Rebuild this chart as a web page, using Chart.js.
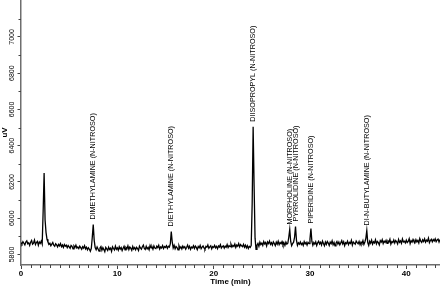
<!DOCTYPE html>
<html>
<head>
<meta charset="utf-8">
<script src="https://cdn.jsdelivr.net/npm/chart.js@4/dist/chart.umd.min.js"></script>
<style>
  html, body { margin: 0; padding: 0; background: #fff; }
  #wrap { width: 440px; height: 287px; }
</style>
</head>
<body>
<div id="wrap"><canvas id="chrom"></canvas></div>
<script>
// detector signal (uV), one sample every 0.1 min starting at 0 min
const sampleStep = 0.1;
const signal = [
    5866, 5858, 5871, 5862, 5853, 5869, 5875, 5859, 5864, 5850,
    5868, 5877, 5857, 5863, 5880, 5855, 5866, 5872, 5851, 5869,
    5861, 5874, 5858, 6040, 6250, 5990, 5921, 5884, 5869, 5856,
    5862, 5848, 5857, 5866, 5851, 5845, 5859, 5853, 5842, 5856,
    5848, 5860, 5843, 5852, 5839, 5855, 5846, 5851, 5838, 5849,
    5842, 5834, 5850, 5845, 5831, 5847, 5839, 5852, 5836, 5841,
    5833, 5846, 5838, 5829, 5843, 5835, 5848, 5831, 5840, 5826,
    5837, 5829, 5818, 5834, 5895, 5965, 5878, 5838, 5826, 5841,
    5830, 5819, 5836, 5844, 5823, 5838, 5827, 5815, 5839, 5831,
    5822, 5840, 5828, 5835, 5817, 5842, 5833, 5825, 5846, 5829,
    5837, 5824, 5843, 5830, 5838, 5821, 5834, 5845, 5826, 5839,
    5832, 5848, 5827, 5841, 5835, 5823, 5844, 5830, 5838, 5826,
    5840, 5833, 5822, 5846, 5836, 5829, 5843, 5852, 5834, 5828,
    5845, 5831, 5839, 5826, 5850, 5837, 5843, 5829, 5847, 5835,
    5832, 5846, 5838, 5851, 5830, 5842, 5836, 5849, 5833, 5844,
    5839, 5848, 5834, 5845, 5841, 5858, 5927, 5870, 5836, 5850,
    5831, 5844, 5838, 5826, 5849, 5835, 5842, 5830, 5846, 5837,
    5843, 5829, 5840, 5852, 5834, 5845, 5828, 5841, 5836, 5848,
    5833, 5846, 5839, 5827, 5844, 5837, 5850, 5832, 5841, 5847,
    5836, 5829, 5845, 5840, 5853, 5834, 5842, 5848, 5831, 5844,
    5839, 5850, 5837, 5845, 5832, 5847, 5841, 5854, 5836, 5843,
    5848, 5835, 5846, 5840, 5855, 5838, 5849, 5843, 5857, 5841,
    5850, 5844, 5858, 5839, 5852, 5846, 5860, 5842, 5855, 5848,
    5843, 5856, 5840, 5851, 5837, 5848, 5833, 5845, 5839, 5850,
    6080, 6505, 6180, 5890, 5828, 5852, 5861, 5845, 5868, 5855,
    5863, 5850, 5871, 5858, 5866, 5847, 5869, 5860, 5874, 5856,
    5865, 5852, 5870, 5861, 5849, 5868, 5857, 5873, 5854, 5866,
    5859, 5871, 5853, 5864, 5850, 5868, 5857, 5862, 5895, 5938,
    5872, 5848, 5860, 5868, 5895, 5954, 5878, 5850, 5864, 5857,
    5869, 5855, 5863, 5850, 5871, 5858, 5866, 5852, 5867, 5860,
    5885, 5943, 5872, 5851, 5866, 5857, 5870, 5849, 5864, 5873,
    5858, 5867, 5852, 5874, 5861, 5848, 5869, 5856, 5872, 5863,
    5850, 5868, 5859, 5875, 5854, 5866, 5847, 5862, 5871, 5857,
    5869, 5853, 5864, 5876, 5858, 5870, 5849, 5865, 5860, 5873,
    5855, 5867, 5861, 5878, 5852, 5869, 5863, 5857, 5874, 5866,
    5859, 5872, 5854, 5868, 5861, 5877, 5856, 5869, 5888, 5932,
    5866, 5850, 5873, 5862, 5879, 5857, 5870, 5864, 5881, 5859,
    5872, 5865, 5853, 5876, 5868, 5882, 5860, 5874, 5866, 5878,
    5861, 5875, 5869, 5884, 5857, 5871, 5866, 5880, 5863, 5877,
    5870, 5858, 5883, 5867, 5875, 5862, 5886, 5869, 5873, 5864,
    5879, 5866, 5872, 5887, 5860, 5876, 5868, 5883, 5871, 5865,
    5882, 5869, 5877, 5863, 5888, 5874, 5867, 5881, 5872, 5886,
    5868, 5879, 5873, 5890, 5865, 5877, 5884, 5870, 5882, 5875,
    5887, 5871, 5880, 5885, 5869, 5883
];

// labelled peaks
const peakNames = [
    'DIMETHYLAMINE (N-NITROSO)',
    'DIETHYLAMINE (N-NITROSO)',
    'DIISOPROPYL (N-NITROSO)',
    'MORPHOLINE (N-NITROSO)',
    'PYRROLIDINE (N-NITROSO)',
    'PIPERIDINE (N-NITROSO)',
    'DI-N-BUTYLAMINE (N-NITROSO)'
];
const peakTimes = [7.5, 15.6, 24.1, 27.9, 28.5, 30.1, 35.9];
const peakHeights = [5965, 5927, 6505, 5938, 5954, 5943, 5932];

// axes
const xTicks = [0, 10, 20, 30, 40];
const yTicks = [5800, 6000, 6200, 6400, 6600, 6800, 7000];
const xRange = [0, 43.5];
const yRange = [5742, 7204];

const points = signal.map((v, i) => ({ x: +(i * sampleStep).toFixed(1), y: v }));

const fontFamily = "'Liberation Sans', Arial, sans-serif";
const axisGrey = '#6e6e6e';

// minor ticks + peak names
const decorPlugin = {
    id: 'decor',
    afterDraw(chart) {
        const { ctx, chartArea, scales: { x, y } } = chart;
        ctx.save();
        ctx.strokeStyle = '#444';
        ctx.lineWidth = 1;
        ctx.beginPath();
        for (let t = Math.ceil(xRange[0]); t <= xRange[1]; t++) {
            if (t % 10 === 0) continue;
            const px = Math.round(x.getPixelForValue(t)) + 0.5;
            ctx.moveTo(px, chartArea.bottom);
            ctx.lineTo(px, chartArea.bottom + 3);
        }
        for (let v = 5900; v < yRange[1]; v += 200) {
            const py = Math.round(y.getPixelForValue(v)) + 0.5;
            ctx.moveTo(chartArea.left, py);
            ctx.lineTo(chartArea.left - 2.5, py);
        }
        ctx.stroke();

        ctx.fillStyle = '#000';
        ctx.font = '8px ' + fontFamily;
        ctx.textAlign = 'left';
        ctx.textBaseline = 'middle';
        peakNames.forEach((name, i) => {
            const px = x.getPixelForValue(peakTimes[i]);
            const py = y.getPixelForValue(peakHeights[i]) - 5;
            ctx.save();
            ctx.translate(px, py);
            ctx.rotate(-Math.PI / 2);
            ctx.scale(0.9, 1);
            ctx.fillText(name, 0, 0);
            ctx.restore();
        });
        ctx.restore();
    }
};

new Chart(document.getElementById('chrom'), {
    type: 'line',
    data: {
        datasets: [{
            data: points,
            borderColor: '#000',
            borderWidth: 1.3,
            pointRadius: 0,
            tension: 0,
            fill: false
        }]
    },
    options: {
        responsive: true,
        maintainAspectRatio: false,
        animation: false,
        layout: { padding: 0 },
        plugins: {
            legend: { display: false },
            tooltip: { enabled: false }
        },
        scales: {
            x: {
                type: 'linear',
                min: xRange[0],
                max: xRange[1],
                afterBuildTicks: s => { s.ticks = xTicks.map(v => ({ value: v })); },
                afterFit: s => { s.height = 22; s.paddingLeft = 0; s.paddingRight = 0; },
                grid: { drawOnChartArea: false, tickLength: 4, tickColor: '#444' },
                border: { color: axisGrey, width: 1.5 },
                ticks: {
                    maxRotation: 0,
                    padding: 0,
                    color: '#000',
                    font: { family: fontFamily, size: 8, weight: 'bold' },
                    callback: v => String(v)
                },
                title: {
                    display: true,
                    text: 'Time (min)',
                    color: '#000',
                    padding: 0,
                    font: { family: fontFamily, size: 8, weight: 'bold' }
                }
            },
            y: {
                min: yRange[0],
                max: yRange[1],
                afterBuildTicks: s => { s.ticks = yTicks.map(v => ({ value: v })); },
                afterFit: s => { s.width = 21; s.paddingTop = 0; s.paddingBottom = 0; },
                grid: { drawOnChartArea: false, tickLength: 3.5, tickColor: '#444' },
                border: { color: axisGrey, width: 1.5 },
                ticks: {
                    minRotation: 90,
                    maxRotation: 90,
                    crossAlign: 'center',
                    padding: -2,
                    color: '#000',
                    font: { family: fontFamily, size: 7 },
                    callback: v => String(v)
                },
                title: {
                    display: true,
                    text: 'uV',
                    color: '#000',
                    padding: 0,
                    font: { family: fontFamily, size: 8, weight: 'bold' }
                }
            }
        }
    },
    plugins: [decorPlugin]
});
</script>
</body>
</html>
